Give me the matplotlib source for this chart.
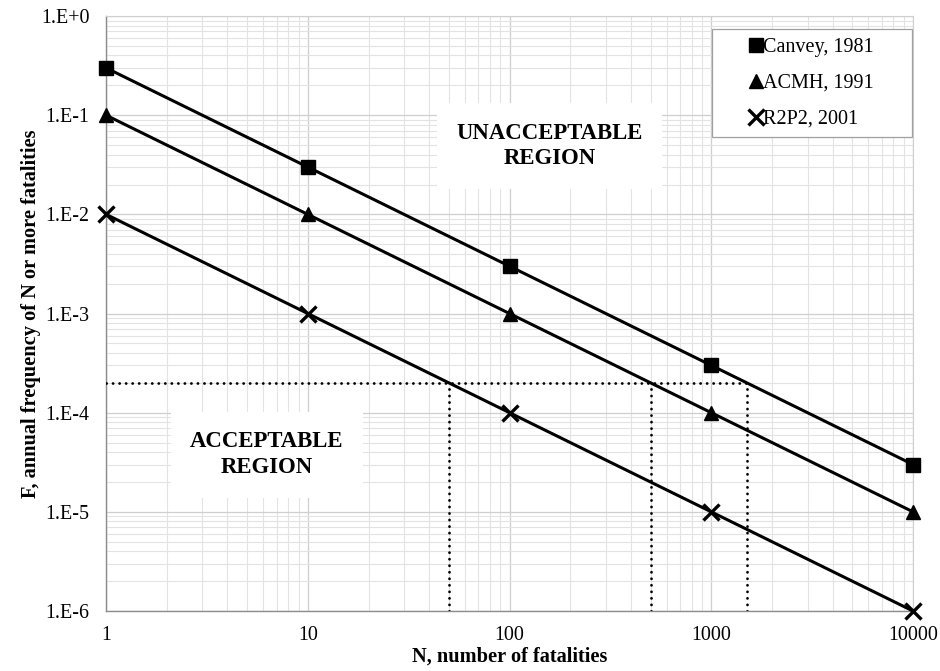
import matplotlib
matplotlib.use("Agg")
import matplotlib.pyplot as plt
from matplotlib.patches import Rectangle
from matplotlib.ticker import LogLocator, FixedLocator, NullFormatter

plt.rcParams["font.family"] = ["Liberation Serif", "DejaVu Serif"]

# Number of fatalities and F-N criterion lines
n_values = [1, 10, 100, 1000, 10000]
canvey_1981 = [3e-1, 3e-2, 3e-3, 3e-4, 3e-5]
acmh_1991 = [1e-1, 1e-2, 1e-3, 1e-4, 1e-5]
r2p2_2001 = [1e-2, 1e-3, 1e-4, 1e-5, 1e-6]

series_labels = ["Canvey, 1981", "ACMH, 1991", "R2P2, 2001"]
series_markers = ["s", "^", "x"]

# Reference frequency and the N values where it meets each line
f_ref = 2e-4
n_cross = [50, 500, 1500]

y_ticks = [1e0, 1e-1, 1e-2, 1e-3, 1e-4, 1e-5, 1e-6]
y_tick_labels = ["1.E+0", "1.E-1", "1.E-2", "1.E-3", "1.E-4", "1.E-5", "1.E-6"]
x_tick_labels = ["1", "10", "100", "1000", "10000"]

fig = plt.figure(figsize=(9.4, 6.71), dpi=100)
ax = fig.add_axes([0.1128, 0.0894, 0.8585, 0.8867])
ax.set_xscale("log")
ax.set_yscale("log")
ax.set_xlim(n_values[0], n_values[-1])
ax.set_ylim(y_ticks[-1], y_ticks[0])

ax.grid(True, which="major", color="#cfcfcf", linewidth=0.9)
ax.grid(True, which="minor", color="#e3e3e3", linewidth=0.8)
ax.set_axisbelow(True)

handles = []
for vals, lab, mk in zip([canvey_1981, acmh_1991, r2p2_2001], series_labels, series_markers):
    ms = 12 if mk == "x" else 10
    h, = ax.plot(n_values, vals, color="black", linewidth=2.2, marker=mk,
                 markersize=ms, markeredgewidth=2.4 if mk == "x" else 1.0,
                 label=lab, clip_on=False, zorder=5)
    handles.append(h)

# Dotted reference lines (round dots)
dots = (0, (0.05, 2.3))
dot_kw = dict(color="black", linestyle=dots, linewidth=2.0,
              dash_capstyle="round", zorder=4)
ax.plot([n_values[0], n_cross[-1]], [f_ref, f_ref], **dot_kw)
for n in n_cross:
    ax.plot([n, n], [y_ticks[-1], f_ref], **dot_kw)

box = dict(boxstyle="square,pad=0.85", facecolor="white", edgecolor="none")
ax.text(158, 4.9e-2, "UNACCEPTABLE\nREGION", ha="center", va="center",
        fontsize=16.4, fontweight="bold", linespacing=1.3, zorder=3, bbox=box)
ax.text(6.27, 3.76e-5, "ACCEPTABLE\nREGION", ha="center", va="center",
        fontsize=16.4, fontweight="bold", linespacing=1.3, zorder=3, bbox=box)

ax.yaxis.set_major_locator(FixedLocator(y_ticks))
ax.set_yticklabels(y_tick_labels)
ax.yaxis.set_minor_locator(LogLocator(base=10, subs=range(2, 10), numticks=20))
ax.yaxis.set_minor_formatter(NullFormatter())
ax.xaxis.set_major_locator(FixedLocator(n_values))
ax.set_xticklabels(x_tick_labels)
ax.xaxis.set_minor_locator(LogLocator(base=10, subs=range(2, 10), numticks=20))
ax.xaxis.set_minor_formatter(NullFormatter())

ax.tick_params(which="both", length=0, labelsize=14.4)
ax.tick_params(axis="y", pad=12)
ax.tick_params(axis="x", pad=11)

for side in ["top", "right"]:
    ax.spines[side].set_color("#cfcfcf")
for side in ["left", "bottom"]:
    ax.spines[side].set_color("#8c8c8c")
    ax.spines[side].set_linewidth(1.0)

ax.set_xlabel("N, number of fatalities", fontsize=14.7, fontweight="bold", labelpad=1)
ax.set_ylabel("F, annual frequency of N or more fatalities", fontsize=14.7,
              fontweight="bold", labelpad=0)

# Legend frame drawn separately so its width can exceed the entries
ax.add_patch(Rectangle((0.751, 0.7966), 0.2478, 0.1815, transform=ax.transAxes,
                       facecolor="white", edgecolor="#a0a0a0", linewidth=0.9,
                       zorder=6, clip_on=False))
leg = ax.legend(handles=handles, loc="center", bbox_to_anchor=(0.8749, 0.8874),
                fontsize=14.5, handlelength=0.6, handletextpad=0.05,
                labelspacing=0.84, borderpad=0, frameon=False)
leg.set_zorder(7)
for h in leg.legend_handles:
    h.set_linestyle("none")

fig.savefig("out.png", dpi=100)
